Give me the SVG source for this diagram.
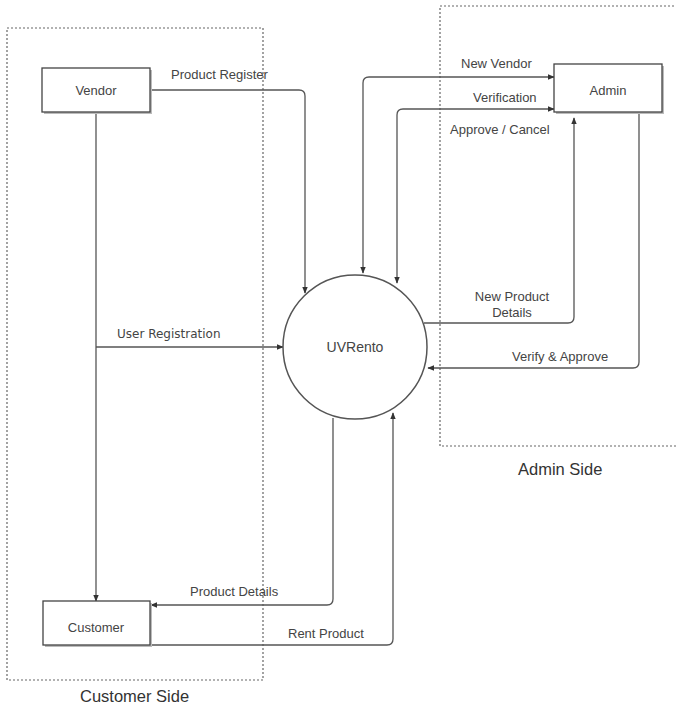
<svg xmlns="http://www.w3.org/2000/svg" width="676" height="706" viewBox="0 0 676 706">
  <style>
    .zone { fill: none; stroke: #666; stroke-width: 1.2; stroke-dasharray: 2 2; }
    .box { fill: #fff; stroke: #444; stroke-width: 1.3; }
    .shadow { fill: #bbb; }
    .proc { fill: #fff; stroke: #555; stroke-width: 1.5; }
    .wire { fill: none; stroke: #555; stroke-width: 1.3; }
    .lbl { font-family: "Liberation Sans", Arial, sans-serif; font-size: 13px; fill: #444; }
    .lbl2 { font-family: "DejaVu Sans", Verdana, sans-serif; font-size: 12px; fill: #444; }
    .zlbl { font-family: "Liberation Sans", Arial, sans-serif; font-size: 16.5px; fill: #333; }
    .name { font-family: "Liberation Sans", Arial, sans-serif; font-size: 13px; fill: #444; text-anchor: middle; }
  </style>
  <defs>
    <marker id="ah" viewBox="0 0 10 10" refX="9" refY="5" markerWidth="7" markerHeight="7" orient="auto-start-reverse" markerUnits="userSpaceOnUse">
      <path d="M0,1 L10,5 L0,9 Z" fill="#333"/>
    </marker>
  </defs>
  <rect width="676" height="706" fill="#fff"/>

  <!-- zones -->
  <g id="customer-side">
    <rect class="zone" x="7" y="28" width="256" height="652"/>
    <text class="zlbl" x="80" y="702">Customer Side</text>
  </g>
  <g id="admin-side">
    <rect class="zone" x="440" y="6" width="244" height="440"/>
    <text class="zlbl" x="518" y="475">Admin Side</text>
  </g>

  <!-- connectors -->
  <g id="connectors">
    <!-- Vendor to UVRento -->
    <path class="wire" d="M150,90 H299 Q305,90 305,96 V293" marker-end="url(#ah)"/>
    <text class="lbl" x="171" y="79">Product Register</text>

    <!-- Vendor to Customer, branch to UVRento -->
    <path class="wire" d="M96,112 V601" marker-end="url(#ah)"/>
    <path class="wire" d="M96,347 H283" marker-end="url(#ah)"/>
    <text class="lbl2" x="117" y="338">User Registration</text>

    <!-- UVRento / Admin: New Vendor -->
    <path class="wire" d="M363,273 V83 Q363,77 369,77 H554" marker-start="url(#ah)" marker-end="url(#ah)"/>
    <text class="lbl" x="461" y="68">New Vendor</text>

    <!-- UVRento / Admin: Verification -->
    <path class="wire" d="M397,283 V115 Q397,109 403,109 H554" marker-start="url(#ah)" marker-end="url(#ah)"/>
    <text class="lbl" x="473" y="102">Verification</text>
    <text class="lbl" x="450" y="134">Approve / Cancel</text>

    <!-- UVRento to Admin: New Product Details -->
    <path class="wire" d="M424,323 H568 Q574,323 574,317 V118" marker-end="url(#ah)"/>
    <text class="lbl" x="512" y="301" text-anchor="middle">New Product</text>
    <text class="lbl" x="512" y="317" text-anchor="middle">Details</text>

    <!-- Admin to UVRento: Verify & Approve -->
    <path class="wire" d="M639,113 V362 Q639,368 633,368 H428" marker-end="url(#ah)"/>
    <text class="lbl" x="512" y="361">Verify &amp; Approve</text>

    <!-- UVRento to Customer: Product Details -->
    <path class="wire" d="M333,418 V599 Q333,605 327,605 H151" marker-end="url(#ah)"/>
    <text class="lbl" x="190" y="596">Product Details</text>

    <!-- Customer to UVRento: Rent Product -->
    <path class="wire" d="M150,645 H387 Q393,645 393,639 V413" marker-end="url(#ah)"/>
    <text class="lbl" x="288" y="638">Rent Product</text>
  </g>

  <!-- nodes -->
  <g id="vendor">
    <rect class="shadow" x="44" y="70" width="108" height="44"/>
    <rect class="box" x="42" y="68" width="108" height="44"/>
    <text class="name" x="96" y="95">Vendor</text>
  </g>
  <g id="customer">
    <rect class="shadow" x="45" y="603" width="107" height="44"/>
    <rect class="box" x="43" y="601" width="107" height="44"/>
    <text class="name" x="96" y="632">Customer</text>
  </g>
  <g id="admin">
    <rect class="shadow" x="556" y="66" width="108" height="48"/>
    <rect class="box" x="554" y="64" width="108" height="48"/>
    <text class="name" x="608" y="95">Admin</text>
  </g>
  <g id="uvrento">
    <circle class="proc" cx="355" cy="347" r="72"/>
    <text class="name" x="355" y="352" style="font-size:14px">UVRento</text>
  </g>
</svg>
